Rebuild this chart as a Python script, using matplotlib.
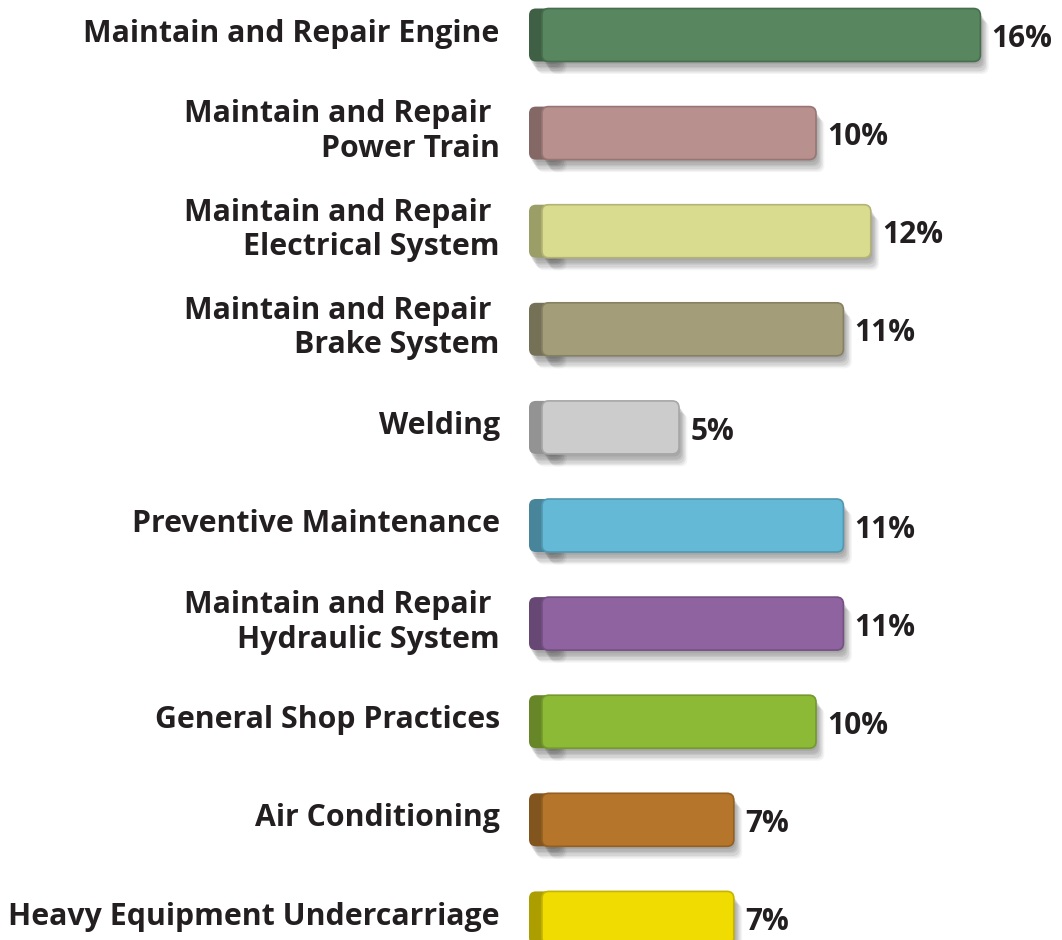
import matplotlib
matplotlib.use("Agg")
import matplotlib.pyplot as plt
from matplotlib.patches import FancyBboxPatch
import matplotlib.patheffects as pe
import matplotlib.colors as mcolors

categories = [
    "Maintain and Repair Engine",
    "Maintain and Repair \nPower Train",
    "Maintain and Repair \nElectrical System",
    "Maintain and Repair \nBrake System",
    "Welding",
    "Preventive Maintenance",
    "Maintain and Repair \nHydraulic System",
    "General Shop Practices",
    "Air Conditioning",
    "Heavy Equipment Undercarriage",
]
values = [16, 10, 12, 11, 5, 11, 11, 10, 7, 7]
value_labels = ["16%", "10%", "12%", "11%", "5%", "11%", "11%", "10%", "7%", "7%"]
colors = ["#57865f", "#b8908e", "#d9dc8f", "#a39d79", "#cccccc",
          "#64b9d7", "#8f62a0", "#8dba36", "#b5752a", "#f0dc00"]

TXT = "#231f20"
plt.rcParams['font.family'] = ['Open Sans', 'DejaVu Sans']

W, H, DPI = 1062, 940, 100
fig = plt.figure(figsize=(W / DPI, H / DPI), dpi=DPI)
ax = fig.add_axes([0, 0, 1, 1])

x0_px, px_per_unit = 542.0, 27.4
y0_px, px_per_row = 35.0, 98.1
ax.set_xlim(-x0_px / px_per_unit, (W - x0_px) / px_per_unit)
ax.set_ylim((H - y0_px) / px_per_row, -y0_px / px_per_row)
ax.axis("off")

bar_h = 53 / px_per_row
side_w = 13 / px_per_unit
aspect = px_per_unit / px_per_row

def darken(c, f):
    r, g, b = mcolors.to_rgb(c)
    return (r * f, g * f, b * f)

shadow = [pe.SimplePatchShadow(offset=o, alpha=a, shadow_rgbFace="#444444")
          for o, a in [((1, -2), 0.11), ((2, -4), 0.11), ((3, -5), 0.11),
                       ((4, -7), 0.10), ((5, -8), 0.08), ((6, -9), 0.06)]]

ypos = list(range(len(values)))
bars = ax.barh(ypos, values, height=bar_h, color=colors)
for i, b in enumerate(bars):
    x, y = b.get_x(), b.get_y()
    w, h = b.get_width(), b.get_height()
    b.remove()
    side = FancyBboxPatch((x - side_w, y), side_w + 0.6, h,
                          boxstyle="round,pad=0,rounding_size=0.25",
                          mutation_aspect=aspect,
                          facecolor=darken(colors[i], 0.72), edgecolor="none",
                          zorder=2)
    side.set_path_effects(shadow + [pe.Normal()])
    ax.add_patch(side)
    body = FancyBboxPatch((x, y), w, h,
                          boxstyle="round,pad=0,rounding_size=0.25",
                          mutation_aspect=aspect,
                          facecolor=colors[i], edgecolor=darken(colors[i], 0.82),
                          linewidth=1.2, zorder=3)
    body.set_path_effects(shadow + [pe.Normal()])
    ax.add_patch(body)

for i, (cat, v, lab) in enumerate(zip(categories, values, value_labels)):
    ax.annotate(cat, xy=(0, i), xytext=(-30.5, 1), textcoords="offset points",
                ha="right", va="center", fontsize=21.8, fontweight="bold",
                color=TXT, linespacing=1.2, zorder=5)
    ax.annotate(lab, xy=(v, i), xytext=(8, -3), textcoords="offset points",
                ha="left", va="center", fontsize=21.5, fontweight="bold",
                color=TXT, zorder=5)

fig.savefig("out.png", dpi=DPI, facecolor="white")
